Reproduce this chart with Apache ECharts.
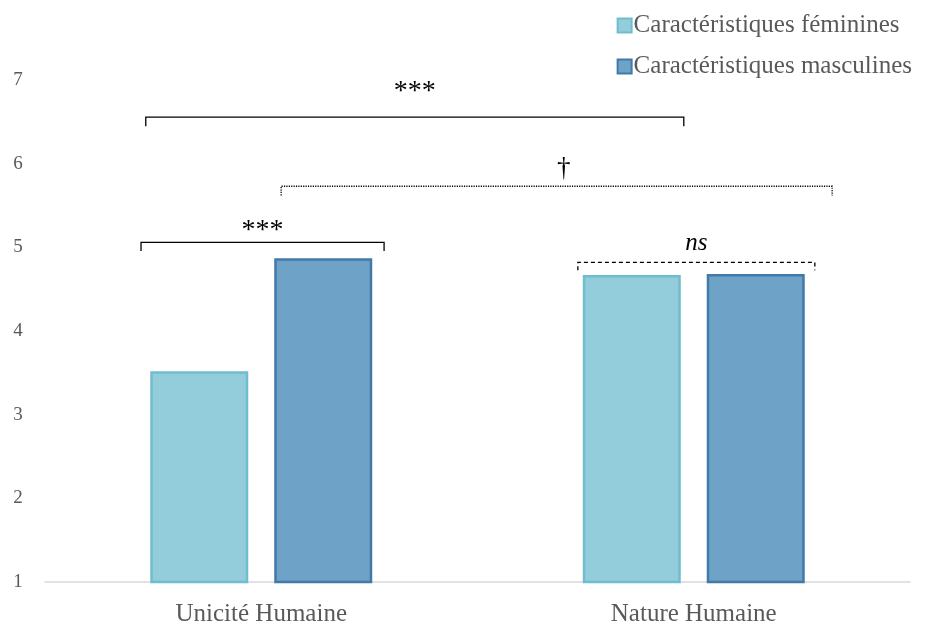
<!DOCTYPE html>
<html>
<head>
<meta charset="utf-8">
<script src="https://cdn.jsdelivr.net/npm/echarts@6/dist/echarts.min.js"></script>
<style>html,body{margin:0;padding:0;background:#fff}#c{width:925px;height:627px}</style>
</head>
<body>
<div id="c"></div>
<script>
var categories = ['Unicité Humaine', 'Nature Humaine'];
var feminines = [3.52, 4.67];
var masculines = [4.87, 4.68];
var yTicks = [1, 7, 1];

// Significance brackets (x in category units: 0 = first category centre, 1 = second)
var bracketStart = [-0.267, 0.046, -0.278, 0.732];
var bracketEnd = [0.977, 1.320, 0.284, 1.280];
var bracketLevel = [6.556, 5.730, 5.060, 4.820];
var bracketDrop = [6.448, 5.620, 4.955, 4.725];
var bracketLabelY = [6.860, 5.940, 5.200, 5.050];
var bracketLabels = ['***', '†', '***', 'ns'];
var bracketStyles = ['solid', 'dotted', 'solid', 'dashed'];

var FONT = '"Liberation Serif", "DejaVu Serif", serif';
var chart = echarts.init(document.getElementById('c'));

var bracketData = bracketStart.map(function (s, i) {
  return [s, bracketEnd[i], bracketLevel[i], bracketDrop[i], bracketLabelY[i], i];
});

chart.setOption({
  animation: false,
  grid: { left: 45, right: 15, top: 80, bottom: 45 },
  legend: {
    orient: 'vertical', right: 8, top: 8, itemGap: 16,
    itemWidth: 14, itemHeight: 14, icon: 'rect',
    textStyle: { fontFamily: FONT, fontSize: 25, color: '#595959', padding: [0, 0, 0, -3] },
    data: ['Caractéristiques féminines', 'Caractéristiques masculines']
  },
  xAxis: [{
    type: 'category', data: categories,
    axisLine: { lineStyle: { color: '#D9D9D9', width: 1.5 } },
    axisTick: { show: false },
    axisLabel: { fontFamily: FONT, fontSize: 25, color: '#595959', margin: 20 }
  }, {
    type: 'value', min: -0.5, max: 1.5, show: false
  }],
  yAxis: {
    type: 'value', min: yTicks[0], max: yTicks[1], interval: yTicks[2],
    axisLine: { show: false }, axisTick: { show: false }, splitLine: { show: false },
    axisLabel: { fontFamily: FONT, fontSize: 19, color: '#595959', margin: 27, align: 'center' }
  },
  series: [{
    name: 'Caractéristiques féminines', type: 'bar', data: feminines,
    barWidth: 98, barGap: '26.5%',
    itemStyle: { color: '#93CDDB', borderColor: '#70BDCE', borderWidth: 2.5 }
  }, {
    name: 'Caractéristiques masculines', type: 'bar', data: masculines,
    barWidth: 98,
    itemStyle: { color: '#6FA2C7', borderColor: '#4279A9', borderWidth: 2.5 }
  }, {
    type: 'custom', xAxisIndex: 1, yAxisIndex: 0, silent: true,
    data: bracketData,
    renderItem: function (params, api) {
      var x1 = api.value(0), x2 = api.value(1), y = api.value(2), yd = api.value(3), ly = api.value(4);
      var idx = api.value(5);
      var p1 = api.coord([x1, yd]), p2 = api.coord([x1, y]), p3 = api.coord([x2, y]), p4 = api.coord([x2, yd]);
      var lp = api.coord([(x1 + x2) / 2, ly]);
      var st = bracketStyles[idx];
      var dash = st === 'dotted' ? [1.2, 1.2] : (st === 'dashed' ? [4, 3] : null);
      var lab = bracketLabels[idx];
      var font = lab === 'ns' ? 'italic 25px ' : (lab === '***' ? '28px ' : '27px ');
      return {
        type: 'group',
        children: [{
          type: 'polyline',
          shape: { points: [p1, p2, p3, p4] },
          style: { stroke: '#000', lineWidth: 1.3, fill: null, lineDash: dash }
        }, {
          type: 'text',
          x: lp[0] + (lab === '†' ? 7 : 0), y: lp[1],
          style: {
            text: lab, fill: '#000', align: 'center', verticalAlign: 'middle',
            font: font + FONT
          }
        }]
      };
    }
  }]
});
</script>
</body>
</html>
